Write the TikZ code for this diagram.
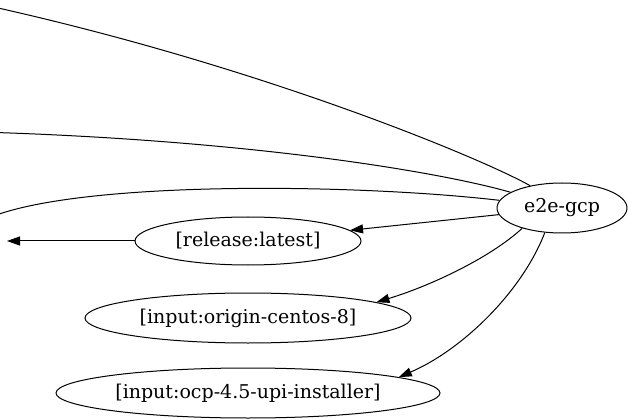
\documentclass[tikz,border=0pt]{standalone}
\usepackage{fontspec}
\setmainfont{DejaVu Serif}
\usetikzlibrary{arrows.meta,shapes.geometric}
\begin{document}
\begin{tikzpicture}[x=1pt,y=-1pt,
  nd/.style={draw,ellipse,inner sep=0pt,line width=1pt,font=\fontsize{19}{22}\selectfont},
  edge/.style={draw,line width=1pt},
  arr/.style={edge,-{Triangle[length=13pt,width=9pt]}}]
\useasboundingbox (0,0) rectangle (628,419);
\node[nd,minimum width=130pt,minimum height=50pt] (e2e) at (562,208) {e2e-gcp};
\node[nd,minimum width=226pt,minimum height=48pt] (rel) at (248,241) {[release:latest]};
\node[nd,minimum width=326pt,minimum height=50pt] (orig) at (248,318) {[input:origin-centos-8]};
\node[nd,minimum width=384pt,minimum height=50pt] (ocp) at (248,393) {[input:ocp-4.5-upi-installer]};
\coordinate (t1) at (-20,4);
\coordinate (t2) at (-20,132);
\coordinate (t3) at (-20,222);
\coordinate (t5) at (7,241);
\draw[edge] (e2e.145) .. controls (485,160) and (260,65) .. (t1);
\draw[edge] (e2e.163) .. controls (440,172) and (250,140) .. (t2);
\draw[edge] (e2e.173) .. controls (350,183) and (60,180) .. (t3);
\draw[arr] (e2e) -- (rel);
\draw[arr] (rel) -- (t5);
\draw[arr] (e2e.207) .. controls (490,258) and (430,286) .. (orig.7);
\draw[arr] (e2e.235) .. controls (522,292) and (462,350) .. (ocp.6);
\end{tikzpicture}
\end{document}
